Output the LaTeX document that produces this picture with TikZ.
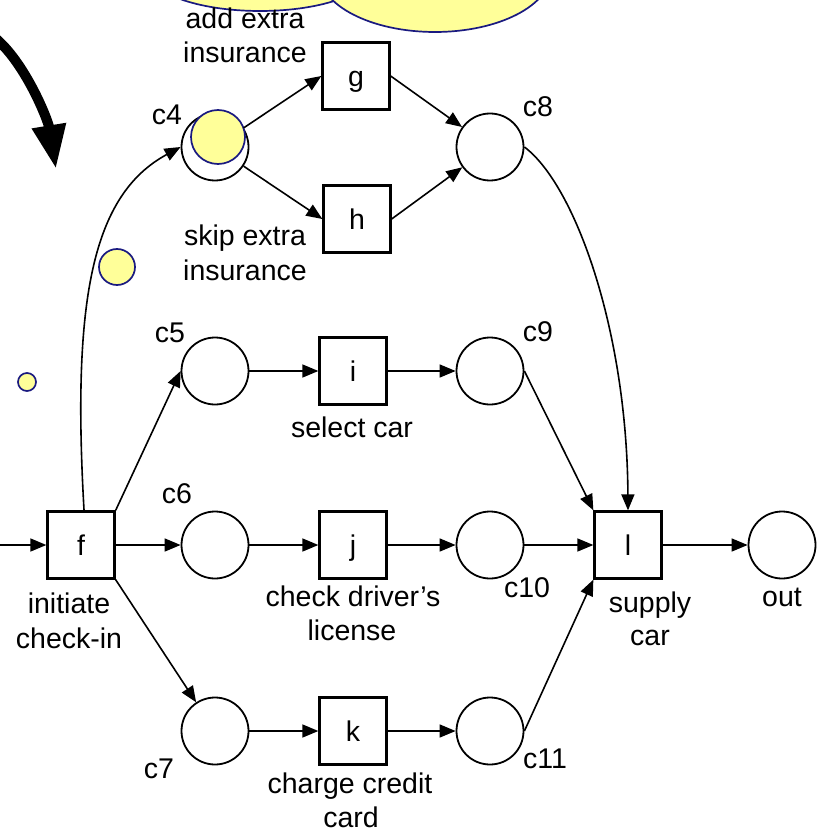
\documentclass[tikz,border=0pt]{standalone}
\usepackage{fontspec}
\setmainfont{Liberation Sans}
\usetikzlibrary{arrows.meta}
\definecolor{tok}{HTML}{FFFF99}
\definecolor{tokline}{HTML}{1A1A80}
\begin{document}
\begin{tikzpicture}[x=1pt,y=-1pt,
  font=\fontsize{28.5}{34}\selectfont,
  place/.style={circle, draw, line width=1.8pt, minimum size=67pt, inner sep=0pt},
  trans/.style={rectangle, draw, line width=2.8pt, minimum size=66.5pt, inner sep=0pt, text height=20.5pt, text depth=0pt},
  arc/.style={line width=1.6pt, -{Triangle[length=16pt,width=13pt]}},
  lbl/.style={anchor=base, inner sep=0pt},
  token/.style={fill=tok, draw=tokline, line width=1.7pt}]
\useasboundingbox (0,0) rectangle (825,834);
\clip (0,0) rectangle (825,834);

% thought cloud (cut off at top)
\path[token] (260,-29) ellipse [x radius=112, y radius=40];
\path[token] (435,-28) ellipse [x radius=116, y radius=60];

% big curved arrow
\draw[line width=10pt, -{Triangle[length=44pt,width=32pt]}] (-6,37) .. controls (25,62) and (48,120) .. (56,169);

% places
\node[place] (c4) at (215,147) {};
\node[place] (c8) at (490,147) {};
\node[place] (c5) at (215,371) {};
\node[place] (c9) at (490,371) {};
\node[place] (c6) at (215,545) {};
\node[place] (c10) at (490,545) {};
\node[place] (c7) at (215,731) {};
\node[place] (c11) at (490,731) {};
\node[place] (out) at (782,545) {};

% transitions
\node[trans] (g) at (356,76) {g};
\node[trans] (h) at (357,219) {h};
\node[trans] (i) at (353,371) {i};
\node[trans] (j) at (353,545) {j};
\node[trans] (k) at (353,731) {k};
\node[trans] (f) at (81,545) {f};
\node[trans] (l) at (628,545) {l};

% tokens
\path[token] (218,137) circle (27);
\path[token] (117,267) circle (18);
\path[token] (27,382) circle (9);

% arcs
\coordinate (src) at (0,545);
\draw[arc] (src) -- (f.west);
\draw[arc] (f.85) .. controls (72,300) and (92,195) .. (c4.west);
\draw[arc] (f.north east) -- (c5.west);
\draw[arc] (f.east) -- (c6);
\draw[arc] (f.south east) -- (c7);
\draw[arc] (c4) -- (g.west);
\draw[arc] (c4) -- (h.west);
\draw[arc] (g.east) -- (c8);
\draw[arc] (h.east) -- (c8);
\draw[arc] (c8.east) .. controls (575,185) and (627,330) .. (l.north);
\draw[arc] (c5) -- (i);
\draw[arc] (i) -- (c9);
\draw[arc] (c9.east) -- (l.north west);
\draw[arc] (c6) -- (j);
\draw[arc] (j) -- (c10);
\draw[arc] (c10) -- (l);
\draw[arc] (c7) -- (k);
\draw[arc] (k) -- (c11);
\draw[arc] (c11.east) -- (l.south west);
\draw[arc] (l) -- (out);

% labels
\node[lbl] (tg1) at (245,29) {add extra};
\node[lbl] (tg2) at (245,63) {insurance};
\node[lbl] (th1) at (245,245) {skip extra};
\node[lbl] (th2) at (245,280) {insurance};
\node[lbl] (tc4) at (167,125) {c4};
\node[lbl] (tc8) at (538,117) {c8};
\node[lbl] (tc5) at (170,342) {c5};
\node[lbl] (tc9) at (538,341) {c9};
\node[lbl] (ti) at (352,437) {select car};
\node[lbl] (tc6) at (177,503) {c6};
\node[lbl] (tf1) at (69,613) {initiate};
\node[lbl] (tf2) at (69,648) {check-in};
\node[lbl] (tj1) at (353,606) {check driver’s};
\node[lbl] (tj2) at (352,640) {license};
\node[lbl] (tc10) at (527,597) {c10};
\node[lbl] (tl1) at (650,612) {supply};
\node[lbl] (tl2) at (650,645) {car};
\node[lbl] (tout) at (782,606) {out};
\node[lbl] (tc7) at (159,778) {c7};
\node[lbl] (tk1) at (350,793) {charge credit};
\node[lbl] (tk2) at (351,827) {card};
\node[lbl] (tc11) at (545,768) {c11};
\end{tikzpicture}
\end{document}
